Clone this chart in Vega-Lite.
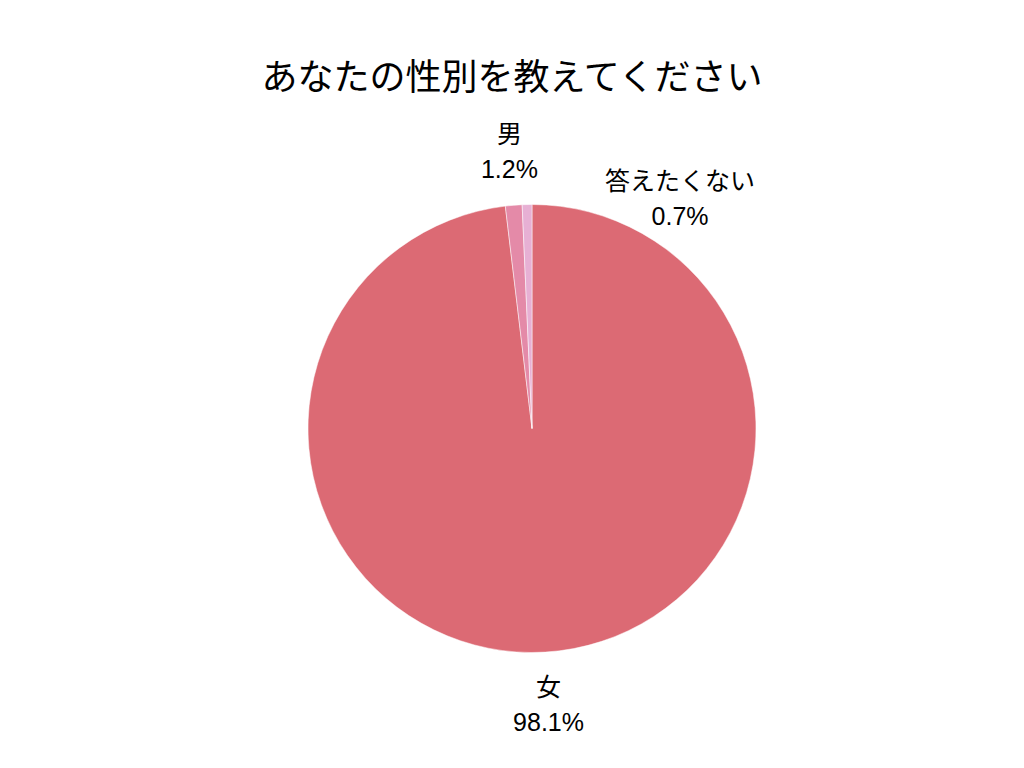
{
  "$schema": "https://vega.github.io/schema/vega-lite/v6.json",
  "autosize": {"type": "fit", "contains": "padding"},
  "width": 1024,
  "height": 768,
  "padding": {"top": 61, "left": 40, "right": 0, "bottom": 0},
  "background": "white",
  "title": {
    "text": "あなたの性別を教えてください",
    "font": "Noto Sans CJK JP",
    "fontSize": 36,
    "fontWeight": "normal",
    "color": "#000000",
    "anchor": "middle",
    "offset": -9,
    "dx": -20
  },
  "data": {
    "values": [
      {"cat": "女", "value": 98.1, "ord": 1},
      {"cat": "男", "value": 1.2, "ord": 2},
      {"cat": "答えたくない", "value": 0.7, "ord": 3}
    ]
  },
  "transform": [
    {"calculate": "datum.cat + '\\n' + format(datum.value, '.1f') + '%'", "as": "label"}
  ],
  "encoding": {
    "theta": {"field": "value", "type": "quantitative", "stack": true},
    "order": {"field": "ord", "type": "quantitative"}
  },
  "layer": [
    {
      "mark": {"type": "arc", "outerRadius": 224, "stroke": "#ffffff", "strokeWidth": 0.5},
      "encoding": {
        "color": {
          "field": "cat",
          "type": "nominal",
          "scale": {"domain": ["女", "男", "答えたくない"], "range": ["#dc6a74", "#e48aa8", "#e7b0d4"]},
          "legend": null
        }
      }
    },
    {
      "transform": [{"filter": "datum.cat !== '答えたくない'"}],
      "mark": {"type": "text", "radius": 277, "dy": -17, "fontSize": 25, "font": "Liberation Sans, Noto Sans CJK JP", "lineBreak": "\n", "lineHeight": 35, "color": "#000000", "align": "center", "baseline": "middle"},
      "encoding": {"text": {"field": "label", "type": "nominal"}}
    },
    {
      "transform": [{"filter": "datum.cat === '答えたくない'"}],
      "mark": {"type": "text", "radius": 277, "dx": 142, "dy": 30, "fontSize": 25, "font": "Liberation Sans, Noto Sans CJK JP", "lineBreak": "\n", "lineHeight": 35, "color": "#000000", "align": "center", "baseline": "middle"},
      "encoding": {"text": {"field": "label", "type": "nominal"}}
    }
  ],
  "config": {"view": {"stroke": null}}
}
